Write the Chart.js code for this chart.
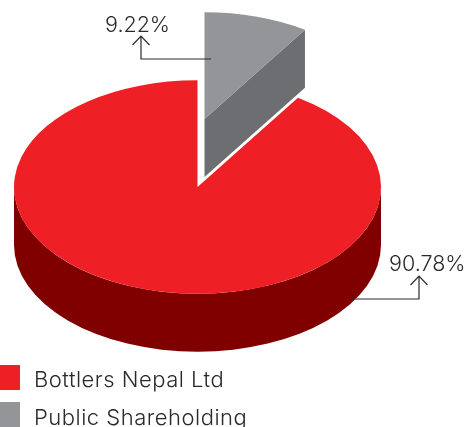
<!DOCTYPE html>
<html>
<head>
<meta charset="utf-8">
<title>Shareholding</title>
<script src="https://cdn.jsdelivr.net/npm/chart.js@4"></script>
<style>
  html, body { margin: 0; padding: 0; background: #fff; overflow: hidden; }
  #wrap { position: relative; width: 466px; height: 427px; overflow: hidden; font-family: Inter, sans-serif; font-weight: 300; color: #2a292b; }
  canvas { position: absolute; left: 0; top: 0; }
  .lbl { position: absolute; font-size: 21.5px; line-height: 26px; white-space: nowrap; }
  .lbl.key { font-size: 22px; letter-spacing: 0.5px; }
  .swatch { position: absolute; left: 0; width: 20px; height: 25px; }
</style>
</head>
<body>
<div id="wrap">
  <canvas id="pie" width="466" height="427"></canvas>
</div>
<script>
const LABELS      = ['Bottlers Nepal Ltd', 'Public Shareholding'];
const SHARES      = [90.78, 9.22];
const TOP_COLORS  = ['#ee2025', '#939598'];
const SIDE_COLORS = ['#800000', '#6d6e71'];

const SQUASH = 107 / 184;   // flattening of the pie
const DEPTH  = 58;          // height of the 3d wall
const LIFT   = { x: 7, y: -68 };  // how far the small slice is pulled out

function leader(ctx, x0, y0, x1, y1) {
  // horizontal run, then up to an arrow head
  ctx.beginPath();
  ctx.moveTo(x0, y0);
  ctx.lineTo(x1, y0);
  ctx.lineTo(x1, y1);
  ctx.moveTo(x1 - 8.5, y1 + 9);
  ctx.lineTo(x1, y1);
  ctx.lineTo(x1 + 8.5, y1 + 9);
  ctx.stroke();
}

const pie3d = {
  id: 'pie3d',
  beforeDatasetDraw(chart) {
    const ctx = chart.ctx;
    const [big, small] = chart.getDatasetMeta(0).data;
    const cx = big.x, cy = big.y, r = big.outerRadius;
    const ry = r * SQUASH;

    // red wall, only the front half of the rim shows
    ctx.save();
    ctx.fillStyle = SIDE_COLORS[0];
    ctx.beginPath();
    ctx.ellipse(cx, cy, r, ry, 0, 0, Math.PI);
    ctx.ellipse(cx, cy + DEPTH, r, ry, 0, Math.PI, 0, true);
    ctx.closePath();
    ctx.fill();
    ctx.restore();

    drawTop(ctx, big, cx, cy);

    // cut face of the lifted slice
    const sx = cx + LIFT.x, sy = cy + LIFT.y;
    const rimX = sx + Math.cos(small.endAngle) * r;
    const rimY = sy + Math.sin(small.endAngle) * ry;
    ctx.save();
    ctx.fillStyle = SIDE_COLORS[1];
    ctx.beginPath();
    ctx.moveTo(sx, sy);
    ctx.lineTo(rimX, rimY);
    ctx.lineTo(rimX, rimY + DEPTH);
    ctx.lineTo(sx, sy + DEPTH);
    ctx.closePath();
    ctx.fill();
    ctx.restore();

    drawTop(ctx, small, sx, sy);
    return false;
  },
  afterDraw(chart) {
    const ctx = chart.ctx;
    ctx.save();
    ctx.strokeStyle = '#2b2a2c';
    ctx.lineWidth = 1.2;
    leader(ctx, 211, 59, 141, 36);
    leader(ctx, 352, 299, 419, 276);
    ctx.restore();
  }
};

function drawTop(ctx, arc, px, py) {
  ctx.save();
  ctx.translate(px, py);
  ctx.scale(1, SQUASH);
  ctx.translate(-arc.x, -arc.y);
  arc.draw(ctx);
  ctx.restore();
}

new Chart(document.getElementById('pie'), {
  type: 'pie',
  data: {
    labels: LABELS,
    datasets: [{ data: SHARES, backgroundColor: TOP_COLORS, borderWidth: 0 }]
  },
  options: {
    responsive: false,
    animation: false,
    rotation: SHARES[1] * 3.6,
    layout: { padding: { left: 14, right: 85, top: 3.5, bottom: 56.5 } },
    plugins: { legend: { display: false }, tooltip: { enabled: false } }
  },
  plugins: [pie3d]
});

// labels and legend
const wrap = document.getElementById('wrap');
function addText(txt, x, y, cls) {
  const el = document.createElement('div');
  el.className = 'lbl' + (cls ? ' ' + cls : '');
  el.textContent = txt;
  el.style.left = x + 'px';
  el.style.top = y + 'px';
  wrap.appendChild(el);
}
addText(SHARES[1].toFixed(2) + '%', 105, 11);
addText(SHARES[0].toFixed(2) + '%', 389, 250);
LABELS.forEach((name, i) => {
  const sw = document.createElement('div');
  sw.className = 'swatch';
  sw.style.top = (i === 0 ? 365 : 402) + 'px';
  sw.style.background = TOP_COLORS[i];
  wrap.appendChild(sw);
  addText(name, 34, i === 0 ? 366 : 404, 'key');
});
</script>
</body>
</html>
